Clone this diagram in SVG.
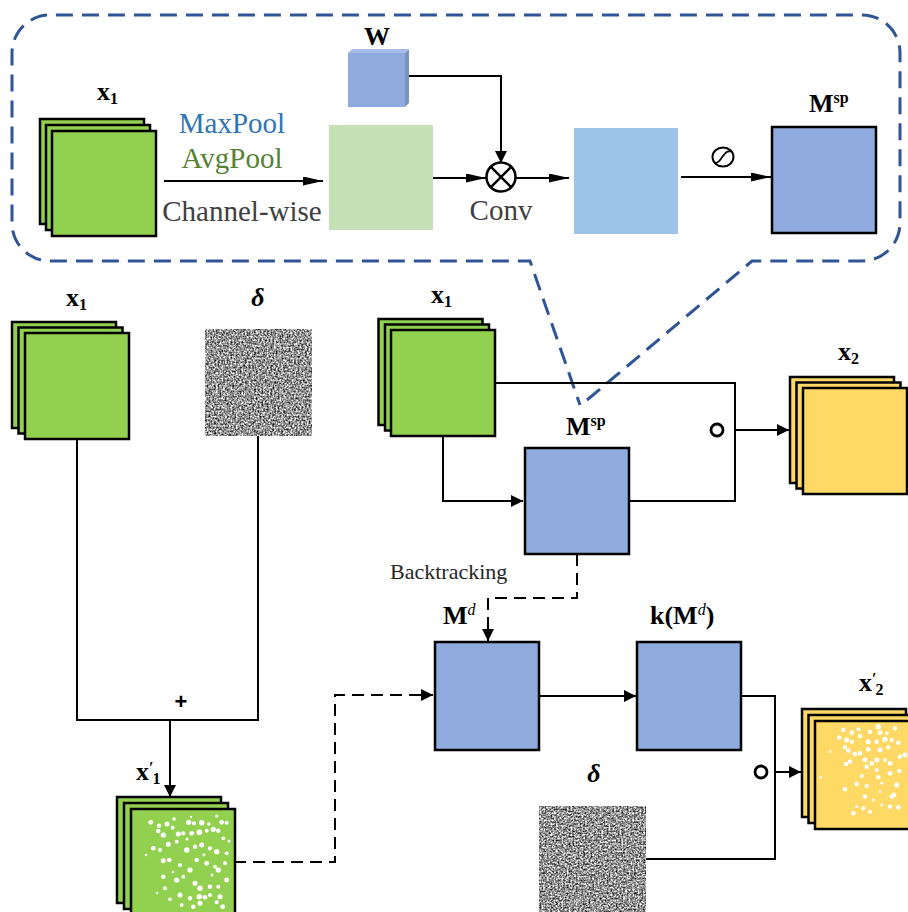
<svg xmlns="http://www.w3.org/2000/svg" xmlns:xlink="http://www.w3.org/1999/xlink" width="908" height="912" viewBox="0 0 908 912">
<style>
.ln{fill:none;stroke:#000;stroke-width:2}
.dsh{fill:none;stroke:#000;stroke-width:2;stroke-dasharray:12 7}
.callout{fill:none;stroke:#2F5597;stroke-width:3;stroke-dasharray:17 9}
.g{fill:#92D050;stroke:#000;stroke-width:2.5}
.y{fill:#FFD966;stroke:#000;stroke-width:2.5}
.b{fill:#8FAADC;stroke:#000;stroke-width:2.5}
.lab{font-family:"Liberation Serif","DejaVu Serif",serif;font-weight:bold;font-size:26px;fill:#000}
.sub{font-size:16px}
.sup{font-size:16px}
.big{font-family:"Liberation Serif","Times New Roman",serif;font-size:29px;text-anchor:middle}
.op{fill:none;stroke:#000;stroke-width:2.5}
</style>
<defs>
<marker id="ah" viewBox="0 0 12 12" refX="12" refY="6" markerWidth="12" markerHeight="12" markerUnits="userSpaceOnUse" orient="auto"><path d="M0,0 L12,6 L0,12 z" fill="#000"/></marker>
<marker id="ahl" viewBox="0 0 20 9" refX="20" refY="4.5" markerWidth="20" markerHeight="9" markerUnits="userSpaceOnUse" orient="auto"><path d="M0,0 L20,4.5 L0,9 z" fill="#000"/></marker>
<filter id="noise1" x="0" y="0" width="1" height="1" color-interpolation-filters="sRGB">
<feTurbulence type="fractalNoise" baseFrequency="0.55" numOctaves="2" seed="3" result="t"/>
<feColorMatrix in="t" type="matrix" values="1.7 0 0 0 -0.27  1.7 0 0 0 -0.27  1.7 0 0 0 -0.27  0 0 0 0 1"/>
</filter>
<filter id="noise2" x="0" y="0" width="1" height="1" color-interpolation-filters="sRGB">
<feTurbulence type="fractalNoise" baseFrequency="0.55" numOctaves="2" seed="11" result="t"/>
<feColorMatrix in="t" type="matrix" values="1.7 0 0 0 -0.27  1.7 0 0 0 -0.27  1.7 0 0 0 -0.27  0 0 0 0 1"/>
</filter>
<g id="dotsA" fill="#fff">
<circle cx="19.7" cy="13.3" r="2.4"/><circle cx="28" cy="16.7" r="2.2"/><circle cx="36" cy="15" r="2.5"/><circle cx="43" cy="10" r="1.8"/><circle cx="57.7" cy="13.3" r="2.6"/><circle cx="63" cy="14.3" r="2"/><circle cx="70.7" cy="13.7" r="2.7"/><circle cx="77.7" cy="15" r="1.8"/><circle cx="85.7" cy="7" r="1.6"/><circle cx="90.7" cy="13.3" r="2.4"/><circle cx="95.7" cy="13.7" r="2"/>
<circle cx="27.3" cy="22" r="2.2"/><circle cx="32.3" cy="26" r="2.6"/><circle cx="41.7" cy="18.7" r="1.9"/><circle cx="47.3" cy="25" r="2.5"/><circle cx="52.3" cy="24.3" r="2.1"/><circle cx="60.7" cy="24.3" r="2.4"/><circle cx="68.3" cy="23.3" r="2.8"/><circle cx="75.7" cy="21.7" r="2"/><circle cx="82.3" cy="20.3" r="2.6"/><circle cx="87.3" cy="21.7" r="2.2"/><circle cx="92.3" cy="29.3" r="1.9"/>
<circle cx="22.3" cy="39.3" r="2.3"/><circle cx="29" cy="41" r="2"/><circle cx="37.3" cy="35.3" r="2.5"/><circle cx="45.7" cy="32.7" r="1.9"/><circle cx="55.7" cy="41" r="2.7"/><circle cx="64" cy="37.7" r="2.2"/><circle cx="70.7" cy="36" r="2.5"/><circle cx="79" cy="39.3" r="2.1"/><circle cx="85.7" cy="42.7" r="2.6"/><circle cx="95.7" cy="44.3" r="1.9"/>
<circle cx="32.3" cy="51.7" r="2.5"/><circle cx="38.3" cy="51" r="2.3"/><circle cx="49" cy="56" r="2"/><circle cx="59" cy="61" r="2.6"/><circle cx="65.7" cy="51" r="2.2"/><circle cx="75.7" cy="54.3" r="2.4"/><circle cx="84" cy="57.7" r="1.9"/><circle cx="87.3" cy="61" r="2.6"/><circle cx="94" cy="54.3" r="2"/>
<circle cx="32.3" cy="67.7" r="2.2"/><circle cx="45.7" cy="71" r="2.6"/><circle cx="52.3" cy="67.7" r="1.9"/><circle cx="64" cy="74.3" r="2.5"/><circle cx="69" cy="79.3" r="2.7"/><circle cx="79" cy="77.7" r="2.3"/><circle cx="87.3" cy="77.7" r="2"/><circle cx="95.7" cy="71" r="2.4"/>
<circle cx="34" cy="79.3" r="2"/><circle cx="49" cy="86" r="2.5"/><circle cx="59" cy="89.3" r="2.2"/><circle cx="68.3" cy="87.7" r="2.7"/><circle cx="74" cy="88.3" r="2.4"/><circle cx="79" cy="86" r="2"/><circle cx="89" cy="87.7" r="2.5"/><circle cx="39" cy="90.3" r="1.8"/><circle cx="85.7" cy="93.3" r="2"/><circle cx="91.7" cy="97.7" r="2.4"/><circle cx="62.3" cy="97.7" r="2.3"/><circle cx="69" cy="94.3" r="2.5"/><circle cx="50.7" cy="96" r="1.9"/>
<circle cx="56" cy="30" r="1.5"/><circle cx="73" cy="46" r="1.4"/><circle cx="42" cy="63" r="1.3"/><circle cx="26" cy="84" r="1.2"/><circle cx="98" cy="32" r="1.5"/><circle cx="60" cy="8" r="1.2"/><circle cx="15" cy="46" r="1.2"/><circle cx="81" cy="66" r="1.4"/>
</g>
<g id="dotsB" fill="#fff">
<circle cx="28.3" cy="9" r="2.2"/><circle cx="36.7" cy="11.7" r="2.4"/><circle cx="43.3" cy="8.3" r="2"/><circle cx="55" cy="10.7" r="2.2"/><circle cx="63.3" cy="5.7" r="2.6"/><circle cx="65" cy="11.7" r="2.4"/><circle cx="71.7" cy="12.3" r="1.8"/><circle cx="80" cy="7.3" r="2.2"/>
<circle cx="24.3" cy="16.7" r="2.2"/><circle cx="31.7" cy="19" r="2.5"/><circle cx="36.7" cy="20.7" r="2"/><circle cx="45" cy="15" r="2.2"/><circle cx="53.3" cy="20.7" r="2.5"/><circle cx="61.7" cy="20.7" r="2.2"/><circle cx="70" cy="18.3" r="2.6"/><circle cx="76.7" cy="19" r="2"/><circle cx="83.3" cy="21.7" r="2.2"/>
<circle cx="30" cy="26.3" r="2.2"/><circle cx="33.3" cy="29.7" r="2.2"/><circle cx="40" cy="33" r="2.4"/><circle cx="45" cy="32.3" r="2.2"/><circle cx="53.3" cy="28.3" r="2.4"/><circle cx="65" cy="29" r="2.5"/><circle cx="73.3" cy="26.3" r="2"/><circle cx="85" cy="35.7" r="2.2"/><circle cx="90" cy="34" r="2.4"/><circle cx="15" cy="30.7" r="1.3"/>
<circle cx="35" cy="40.7" r="2.2"/><circle cx="50" cy="39" r="2.4"/><circle cx="56.7" cy="42.3" r="2.2"/><circle cx="61.7" cy="39" r="2.5"/><circle cx="70" cy="39" r="2.1"/><circle cx="75" cy="42.3" r="2.4"/><circle cx="31" cy="43" r="2.2"/><circle cx="51.7" cy="45.7" r="2.2"/><circle cx="61.7" cy="49" r="2"/><circle cx="75" cy="52.3" r="2.4"/><circle cx="84.3" cy="50" r="2.2"/>
<circle cx="46.7" cy="55" r="2"/><circle cx="63.3" cy="56.3" r="2.2"/><circle cx="5.7" cy="56.3" r="1.3"/><circle cx="41.7" cy="63" r="2.2"/><circle cx="51.7" cy="65" r="2"/><circle cx="66.7" cy="62.3" r="1.4"/><circle cx="81.7" cy="64" r="2.5"/><circle cx="30" cy="68.3" r="2.2"/><circle cx="65" cy="70.7" r="1.4"/>
<circle cx="50" cy="75.7" r="2.2"/><circle cx="76.7" cy="75.7" r="2.2"/><circle cx="79" cy="74" r="2.4"/><circle cx="58.3" cy="79" r="1.4"/><circle cx="41.7" cy="85.7" r="1.4"/><circle cx="48.3" cy="87.3" r="2.2"/><circle cx="66.7" cy="84" r="1.4"/><circle cx="83.3" cy="86.3" r="2.2"/><circle cx="38.3" cy="92.3" r="2.2"/><circle cx="55" cy="90.7" r="2"/><circle cx="75" cy="85.7" r="2.2"/>
</g>
</defs>
<rect width="908" height="912" fill="#fff"/>

<g id="callout">
<path class="callout" d="M587,400 L752,261 L862,261 A38,38 0 0 0 900,223 L900,53 A38,38 0 0 0 862,15 L50,15 A38,38 0 0 0 12,53 L12,223 A38,38 0 0 0 50,261 L530,261 L580,405"/>
</g>

<g id="connectors">
<line class="ln" x1="164" y1="181" x2="323" y2="181" marker-end="url(#ahl)"/>
<path class="ln" d="M409,76 L501,76 L501,163" marker-end="url(#ah)"/>
<line class="ln" x1="433" y1="178" x2="486" y2="178" marker-end="url(#ahl)"/>
<line class="ln" x1="516" y1="178" x2="569" y2="178" marker-end="url(#ahl)"/>
<line class="ln" x1="681" y1="177" x2="771" y2="177" marker-end="url(#ahl)"/>
<path class="ln" d="M77,439 L77,720 L258,720 L258,436"/>
<line class="ln" x1="170" y1="720" x2="170" y2="797" marker-end="url(#ah)"/>
<path class="dsh" d="M234,862 L335,862 L335,695 L433,695" marker-end="url(#ah)"/>
<path class="ln" d="M495,383 L735,383 L735,501 L629,501"/>
<line class="ln" x1="735" y1="430" x2="789" y2="430" marker-end="url(#ah)"/>
<path class="ln" d="M443,436 L443,501 L523,501" marker-end="url(#ah)"/>
<path class="dsh" d="M577,554 L577,598 L488,598 L488,641" marker-end="url(#ah)"/>
<line class="ln" x1="539" y1="696" x2="636" y2="696" marker-end="url(#ah)"/>
<path class="ln" d="M741,696 L775,696 L775,859 L646,859"/>
<line class="ln" x1="775" y1="772" x2="801" y2="772" marker-end="url(#ah)"/>
</g>

<g id="x1-top">
<rect class="g" x="40" y="119" width="104" height="105"/>
<rect class="g" x="46" y="125" width="104" height="105"/>
<rect class="g" x="52" y="131" width="104" height="105"/>
<text class="lab" x="97" y="100">x<tspan class="sub" dy="4">1</tspan></text>
</g>

<g id="pool-labels">
<text class="big" x="232" y="133" fill="#2E75B6">MaxPool</text>
<text class="big" x="232" y="168" fill="#548235">AvgPool</text>
<text class="big" x="242" y="221" fill="#404040">Channel-wise</text>
</g>

<g id="pooled">
<rect x="329" y="125" width="104" height="105" fill="#C5E0B4"/>
</g>

<g id="W">
<polygon points="348,53 352,49 409,49 405,53" fill="#A8BDE6"/>
<polygon points="405,53 409,49 409,103 405,107" fill="#7A93C4"/>
<rect x="348" y="53" width="57" height="54" fill="#8FAADC"/>
<text class="lab" x="377" y="45" text-anchor="middle" font-size="23">W</text>
</g>

<g id="conv">
<circle class="op" cx="501" cy="177" r="14.5" fill="#fff"/>
<line class="op" x1="490.7" y1="166.7" x2="511.3" y2="187.3"/>
<line class="op" x1="511.3" y1="166.7" x2="490.7" y2="187.3"/>
<text class="big" x="501" y="220" fill="#404040">Conv</text>
</g>

<g id="conv-out">
<rect x="574" y="128" width="104" height="106" fill="#9DC3E6"/>
</g>

<g id="sigmoid">
<ellipse cx="723" cy="157" rx="10.5" ry="9.5" fill="none" stroke="#000" stroke-width="2"/>
<path d="M714,163 C719,163 720,160 723,156 C726,152 727,151 732,151" fill="none" stroke="#000" stroke-width="1.8"/>
</g>

<g id="Msp-top">
<rect class="b" x="772" y="127" width="104" height="106"/>
<text class="lab" x="809" y="112" font-size="22">M<tspan class="sup" dy="-9">sp</tspan></text>
</g>

<g id="x1-left">
<rect class="g" x="12" y="322" width="104" height="106"/>
<rect class="g" x="18.5" y="327.5" width="104" height="106"/>
<rect class="g" x="25" y="333" width="104" height="106"/>
<text class="lab" x="66" y="306">x<tspan class="sub" dy="4">1</tspan></text>
</g>

<g id="delta-left">
<rect x="205" y="329" width="107" height="107" fill="#808080" filter="url(#noise1)"/>
<text class="lab" x="258" y="306" text-anchor="middle" font-style="italic" font-size="25">δ</text>
</g>

<g id="plus">
<text x="181" y="709" text-anchor="middle" font-family="Liberation Sans, Arial, sans-serif" font-weight="bold" font-size="22">+</text>
</g>

<g id="x1p">
<rect class="g" x="117" y="797" width="104" height="106"/>
<rect class="g" x="124" y="803" width="104" height="106"/>
<rect class="g" x="131" y="809" width="104" height="106"/>
<use xlink:href="#dotsA" x="131" y="809"/>
<text class="lab" x="136" y="780">x<tspan class="sup" dy="-7" font-size="15">′</tspan><tspan class="sub" dx="-1" dy="11">1</tspan></text>
</g>

<g id="x1-mid">
<rect class="g" x="378.5" y="319" width="104" height="106"/>
<rect class="g" x="385" y="324.5" width="104" height="106"/>
<rect class="g" x="391" y="330" width="104" height="106"/>
<text class="lab" x="431" y="303">x<tspan class="sub" dy="4">1</tspan></text>
</g>

<g id="Msp-mid">
<rect class="b" x="525" y="448" width="104" height="106"/>
<text class="lab" x="566" y="435" font-size="22">M<tspan class="sup" dy="-9">sp</tspan></text>
</g>

<g id="hadamard1">
<circle cx="717" cy="430" r="6" fill="none" stroke="#000" stroke-width="2.8"/>
</g>

<g id="x2">
<rect class="y" x="790" y="377" width="104" height="106"/>
<rect class="y" x="796.5" y="382.5" width="104" height="106"/>
<rect class="y" x="803" y="388" width="104" height="106"/>
<text class="lab" x="838" y="360">x<tspan class="sub" dy="4">2</tspan></text>
</g>

<g id="backtracking">
<text x="390" y="579" font-family="Liberation Serif, Times New Roman, serif" font-size="22" fill="#262626">Backtracking</text>
</g>

<g id="Md">
<rect class="b" x="435" y="642" width="104" height="108"/>
<text class="lab" x="443" y="624" font-size="22">M<tspan class="sup" dy="-9" font-style="italic" font-weight="normal">d</tspan></text>
</g>

<g id="kMd">
<rect class="b" x="637" y="642" width="104" height="108"/>
<text class="lab" x="650" y="624" font-size="22">k(M<tspan class="sup" dy="-9" font-style="italic" font-weight="normal">d</tspan><tspan dy="9">)</tspan></text>
</g>

<g id="hadamard2">
<circle cx="761" cy="772" r="6" fill="none" stroke="#000" stroke-width="2.8"/>
</g>

<g id="delta-bottom">
<rect x="539" y="806" width="107" height="107" fill="#808080" filter="url(#noise2)"/>
<text class="lab" x="594" y="782" text-anchor="middle" font-style="italic" font-size="25">δ</text>
</g>

<g id="x2p">
<rect class="y" x="802" y="709" width="104" height="108"/>
<rect class="y" x="808.5" y="715" width="104" height="108"/>
<rect class="y" x="815" y="721" width="104" height="108"/>
<use xlink:href="#dotsB" x="815" y="721"/>
<text class="lab" x="859" y="691">x<tspan class="sup" dy="-7" font-size="15">′</tspan><tspan class="sub" dx="-1" dy="11">2</tspan></text>
</g>
</svg>
